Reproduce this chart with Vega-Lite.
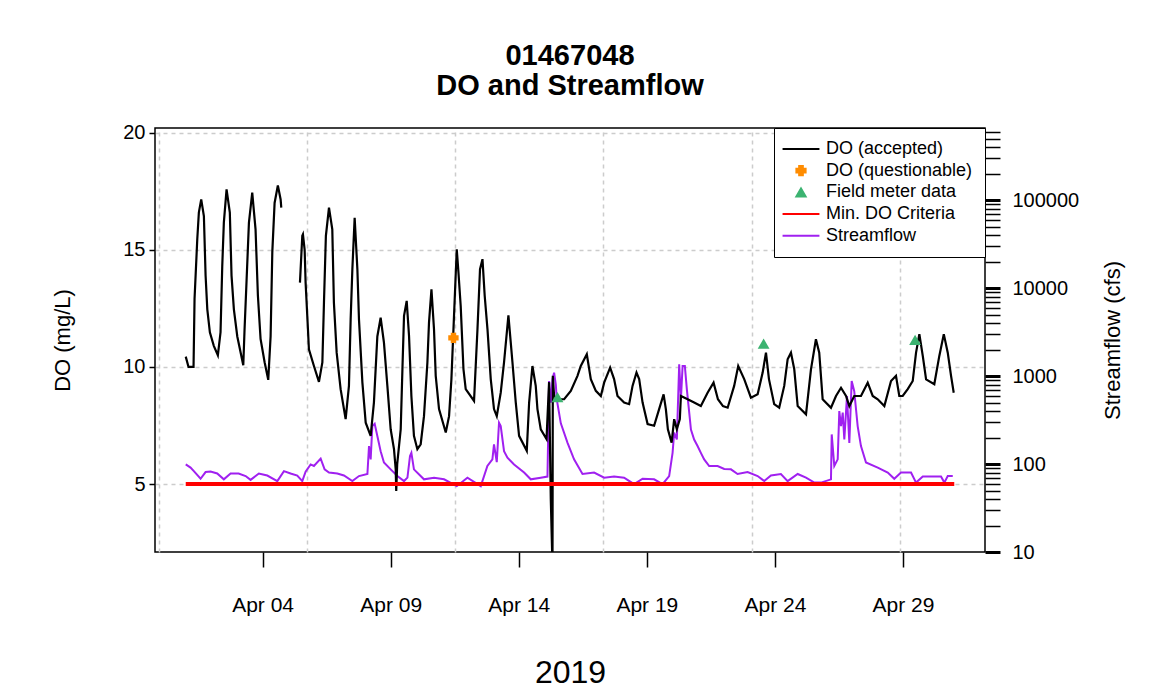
{
  "$schema": "https://vega.github.io/schema/vega-lite/v6.json",
  "width": 830,
  "height": 424,
  "autosize": "none",
  "padding": {"left": 155, "top": 128, "right": 171, "bottom": 144},
  "background": "white",
  "title": {"text": ["01467048", "DO and Streamflow"], "font": "Liberation Sans", "fontSize": 29, "fontWeight": "bold", "lineHeight": 30, "offset": 22, "anchor": "middle", "frame": "group", "color": "black"},
  "config": {
    "font": "Liberation Sans",
    "view": {"stroke": "black", "strokeWidth": 1.5},
    "axis": {"labelColor": "black", "titleColor": "black", "tickColor": "black", "domain": false, "labelFont": "Liberation Sans", "titleFont": "Liberation Sans", "titleFontWeight": "normal"},
    "legend": {"labelFont": "Liberation Sans"}
  },
  "datasets": {
    "do": [
      {"t":"2019-04-01 00:00","v":10.44,"s":1},{"t":"2019-04-01 02:36","v":10.0,"s":1},{"t":"2019-04-01 07:18","v":10.0,"s":1},{"t":"2019-04-01 08:15","v":12.9,"s":1},{"t":"2019-04-01 10:48","v":15.45,"s":1},{"t":"2019-04-01 12:18","v":16.6,"s":1},{"t":"2019-04-01 14:30","v":17.15,"s":1},{"t":"2019-04-01 17:00","v":16.44,"s":1},{"t":"2019-04-01 18:36","v":13.9,"s":1},{"t":"2019-04-01 20:12","v":12.46,"s":1},{"t":"2019-04-01 22:36","v":11.48,"s":1},
      {"t":"2019-04-02 02:18","v":10.9,"s":1},{"t":"2019-04-02 06:06","v":10.5,"s":1},{"t":"2019-04-02 08:36","v":11.48,"s":1},{"t":"2019-04-02 10:12","v":14.3,"s":1},{"t":"2019-04-02 11:42","v":16.16,"s":1},{"t":"2019-04-02 14:15","v":17.58,"s":1},{"t":"2019-04-02 17:18","v":16.59,"s":1},{"t":"2019-04-02 18:54","v":13.9,"s":1},{"t":"2019-04-02 21:06","v":12.46,"s":1},
      {"t":"2019-04-03 00:18","v":11.3,"s":1},{"t":"2019-04-03 05:54","v":10.07,"s":1},{"t":"2019-04-03 07:06","v":11.6,"s":1},{"t":"2019-04-03 09:00","v":13.7,"s":1},{"t":"2019-04-03 11:12","v":16.16,"s":1},{"t":"2019-04-03 14:18","v":17.44,"s":1},{"t":"2019-04-03 17:24","v":15.87,"s":1},{"t":"2019-04-03 19:36","v":13.05,"s":1},{"t":"2019-04-03 22:06","v":11.2,"s":1},
      {"t":"2019-04-04 01:54","v":10.2,"s":1},{"t":"2019-04-04 05:18","v":9.45,"s":1},{"t":"2019-04-04 07:30","v":11.3,"s":1},{"t":"2019-04-04 09:06","v":14.9,"s":1},{"t":"2019-04-04 11:15","v":17.0,"s":1},{"t":"2019-04-04 14:18","v":17.75,"s":1},{"t":"2019-04-04 16:54","v":17.15,"s":1},{"t":"2019-04-04 17:30","v":16.8,"s":1},
      {"t":"2019-04-05 11:00","v":13.6,"s":2},{"t":"2019-04-05 13:12","v":15.6,"s":2},{"t":"2019-04-05 13:48","v":15.66,"s":2},{"t":"2019-04-05 15:24","v":15.0,"s":2},{"t":"2019-04-05 16:18","v":13.6,"s":2},{"t":"2019-04-05 18:30","v":11.6,"s":2},{"t":"2019-04-05 19:24","v":10.75,"s":2},
      {"t":"2019-04-06 00:06","v":10.04,"s":2},{"t":"2019-04-06 04:48","v":9.36,"s":2},{"t":"2019-04-06 08:00","v":10.19,"s":2},{"t":"2019-04-06 09:30","v":12.75,"s":2},{"t":"2019-04-06 11:18","v":15.6,"s":2},{"t":"2019-04-06 14:12","v":16.8,"s":2},{"t":"2019-04-06 17:18","v":15.87,"s":2},{"t":"2019-04-06 18:48","v":12.75,"s":2},{"t":"2019-04-06 21:24","v":10.61,"s":2},
      {"t":"2019-04-07 01:06","v":9.05,"s":2},{"t":"2019-04-07 05:48","v":7.77,"s":2},{"t":"2019-04-07 08:54","v":9.19,"s":2},{"t":"2019-04-07 10:30","v":12.03,"s":2},{"t":"2019-04-07 12:06","v":14.17,"s":2},{"t":"2019-04-07 14:15","v":16.37,"s":2},{"t":"2019-04-07 16:48","v":14.17,"s":2},{"t":"2019-04-07 18:18","v":12.03,"s":2},{"t":"2019-04-07 21:30","v":9.33,"s":2},
      {"t":"2019-04-08 00:36","v":7.62,"s":2},{"t":"2019-04-08 05:15","v":7.06,"s":2},{"t":"2019-04-08 08:18","v":8.48,"s":2},{"t":"2019-04-08 11:30","v":11.3,"s":2},{"t":"2019-04-08 14:36","v":12.1,"s":2},{"t":"2019-04-08 17:42","v":11.04,"s":2},{"t":"2019-04-08 20:54","v":9.19,"s":2},
      {"t":"2019-04-09 00:00","v":7.34,"s":2},{"t":"2019-04-09 03:06","v":6.49,"s":2},{"t":"2019-04-09 04:42","v":5.64,"s":2},{"t":"2019-04-09 05:12","v":4.71,"s":2},{"t":"2019-04-09 06:06","v":5.85,"s":2},{"t":"2019-04-09 09:24","v":7.34,"s":2},{"t":"2019-04-09 11:00","v":9.9,"s":2},{"t":"2019-04-09 12:30","v":12.18,"s":2},{"t":"2019-04-09 15:00","v":12.82,"s":2},{"t":"2019-04-09 17:12","v":11.32,"s":2},{"t":"2019-04-09 19:24","v":8.76,"s":2},{"t":"2019-04-09 21:48","v":7.06,"s":2},
      {"t":"2019-04-10 01:00","v":6.49,"s":2},{"t":"2019-04-10 04:06","v":6.7,"s":2},{"t":"2019-04-10 07:12","v":7.9,"s":2},{"t":"2019-04-10 10:24","v":10.19,"s":2},{"t":"2019-04-10 11:54","v":11.89,"s":2},{"t":"2019-04-10 14:12","v":13.31,"s":2},{"t":"2019-04-10 16:36","v":11.6,"s":2},{"t":"2019-04-10 18:12","v":9.62,"s":2},{"t":"2019-04-10 21:18","v":8.2,"s":2},
      {"t":"2019-04-11 03:36","v":7.2,"s":2},{"t":"2019-04-11 06:42","v":7.9,"s":2},{"t":"2019-04-11 08:54","v":9.48,"s":2},{"t":"2019-04-11 13:54","v":15.02,"s":2},{"t":"2019-04-11 15:30","v":14.03,"s":2},{"t":"2019-04-11 17:36","v":12.6,"s":2},{"t":"2019-04-11 20:12","v":9.9,"s":2},{"t":"2019-04-11 22:18","v":9.05,"s":2},
      {"t":"2019-04-12 06:06","v":8.55,"s":2},{"t":"2019-04-12 09:18","v":11.6,"s":2},{"t":"2019-04-12 11:42","v":14.17,"s":2},{"t":"2019-04-12 14:00","v":14.6,"s":2},{"t":"2019-04-12 16:06","v":13.03,"s":2},{"t":"2019-04-12 18:42","v":11.6,"s":2},{"t":"2019-04-12 21:45","v":9.48,"s":2},
      {"t":"2019-04-13 00:48","v":8.2,"s":2},{"t":"2019-04-13 03:24","v":7.9,"s":2},{"t":"2019-04-13 07:06","v":8.9,"s":2},{"t":"2019-04-13 10:12","v":10.19,"s":2},{"t":"2019-04-13 14:18","v":12.2,"s":2},{"t":"2019-04-13 16:30","v":11.04,"s":2},{"t":"2019-04-13 18:06","v":10.19,"s":2},{"t":"2019-04-13 21:12","v":8.48,"s":2},
      {"t":"2019-04-14 00:18","v":7.06,"s":2},{"t":"2019-04-14 07:30","v":6.42,"s":2},{"t":"2019-04-14 09:42","v":8.48,"s":2},{"t":"2019-04-14 12:48","v":10.04,"s":2},{"t":"2019-04-14 15:54","v":9.19,"s":2},{"t":"2019-04-14 17:30","v":8.2,"s":2},{"t":"2019-04-14 20:36","v":7.34,"s":2},
      {"t":"2019-04-15 02:00","v":6.92,"s":2},{"t":"2019-04-15 04:24","v":9.35,"s":2},{"t":"2019-04-15 06:00","v":4.36,"s":2},{"t":"2019-04-15 07:36","v":1.5,"s":2},{"t":"2019-04-15 07:54","v":9.62,"s":2},{"t":"2019-04-15 09:06","v":8.76,"s":2},{"t":"2019-04-15 12:18","v":8.62,"s":2},{"t":"2019-04-15 18:30","v":8.62,"s":2},
      {"t":"2019-04-16 00:45","v":8.98,"s":2},{"t":"2019-04-16 07:00","v":9.62,"s":2},{"t":"2019-04-16 10:06","v":10.04,"s":2},{"t":"2019-04-16 15:45","v":10.54,"s":2},{"t":"2019-04-16 19:30","v":9.48,"s":2},
      {"t":"2019-04-17 00:12","v":8.98,"s":2},{"t":"2019-04-17 04:54","v":8.76,"s":2},{"t":"2019-04-17 08:00","v":9.33,"s":2},{"t":"2019-04-17 13:36","v":9.97,"s":2},{"t":"2019-04-17 17:18","v":9.48,"s":2},{"t":"2019-04-17 20:30","v":8.76,"s":2},
      {"t":"2019-04-18 02:42","v":8.48,"s":2},{"t":"2019-04-18 07:24","v":8.41,"s":2},{"t":"2019-04-18 10:36","v":9.19,"s":2},{"t":"2019-04-18 14:18","v":9.76,"s":2},{"t":"2019-04-18 16:48","v":9.48,"s":2},{"t":"2019-04-18 20:00","v":8.48,"s":2},
      {"t":"2019-04-19 00:42","v":7.56,"s":2},{"t":"2019-04-19 06:48","v":7.49,"s":2},{"t":"2019-04-19 11:30","v":8.2,"s":2},{"t":"2019-04-19 15:42","v":8.83,"s":2},{"t":"2019-04-19 17:48","v":8.2,"s":2},{"t":"2019-04-19 19:42","v":7.34,"s":2},{"t":"2019-04-19 23:12","v":6.77,"s":2},
      {"t":"2019-04-20 01:36","v":7.77,"s":2},{"t":"2019-04-20 04:06","v":7.34,"s":2},{"t":"2019-04-20 06:54","v":7.77,"s":2},{"t":"2019-04-20 07:54","v":8.76,"s":2},{"t":"2019-04-20 14:12","v":8.62,"s":2},{"t":"2019-04-20 20:18","v":8.48,"s":2},
      {"t":"2019-04-21 02:36","v":8.33,"s":2},{"t":"2019-04-21 08:54","v":8.9,"s":2},{"t":"2019-04-21 14:30","v":9.33,"s":2},{"t":"2019-04-21 18:36","v":8.62,"s":2},{"t":"2019-04-21 23:18","v":8.33,"s":2},
      {"t":"2019-04-22 03:42","v":8.26,"s":2},{"t":"2019-04-22 09:48","v":9.19,"s":2},{"t":"2019-04-22 13:36","v":10.04,"s":2},{"t":"2019-04-22 19:12","v":9.48,"s":2},
      {"t":"2019-04-23 01:30","v":8.69,"s":2},{"t":"2019-04-23 07:48","v":8.83,"s":2},{"t":"2019-04-23 12:30","v":9.76,"s":2},{"t":"2019-04-23 15:36","v":10.61,"s":2},{"t":"2019-04-23 18:24","v":9.48,"s":2},{"t":"2019-04-23 23:18","v":8.41,"s":2},
      {"t":"2019-04-24 04:00","v":8.26,"s":2},{"t":"2019-04-24 08:42","v":9.19,"s":2},{"t":"2019-04-24 11:54","v":10.33,"s":2},{"t":"2019-04-24 15:00","v":10.61,"s":2},{"t":"2019-04-24 18:06","v":9.9,"s":2},{"t":"2019-04-24 21:18","v":8.33,"s":2},
      {"t":"2019-04-25 05:06","v":7.98,"s":2},{"t":"2019-04-25 09:45","v":9.9,"s":2},{"t":"2019-04-25 14:24","v":11.18,"s":2},{"t":"2019-04-25 17:30","v":10.61,"s":2},{"t":"2019-04-25 20:42","v":8.62,"s":2},
      {"t":"2019-04-26 04:30","v":8.26,"s":2},{"t":"2019-04-26 09:12","v":8.76,"s":2},{"t":"2019-04-26 13:54","v":9.11,"s":2},{"t":"2019-04-26 18:36","v":8.76,"s":2},{"t":"2019-04-26 21:42","v":8.33,"s":2},
      {"t":"2019-04-27 02:18","v":8.76,"s":2},{"t":"2019-04-27 08:36","v":8.76,"s":2},{"t":"2019-04-27 14:54","v":9.33,"s":2},{"t":"2019-04-27 19:36","v":8.76,"s":2},
      {"t":"2019-04-28 00:18","v":8.62,"s":2},{"t":"2019-04-28 06:30","v":8.33,"s":2},{"t":"2019-04-28 12:45","v":9.4,"s":2},{"t":"2019-04-28 17:24","v":9.62,"s":2},{"t":"2019-04-28 20:30","v":8.76,"s":2},{"t":"2019-04-28 23:42","v":8.76,"s":2},
      {"t":"2019-04-29 04:24","v":9.05,"s":2},{"t":"2019-04-29 09:06","v":9.4,"s":2},{"t":"2019-04-29 12:12","v":10.61,"s":2},{"t":"2019-04-29 15:18","v":11.4,"s":2},{"t":"2019-04-29 18:30","v":10.47,"s":2},{"t":"2019-04-29 21:36","v":9.47,"s":2},
      {"t":"2019-04-30 05:18","v":9.26,"s":2},{"t":"2019-04-30 10:00","v":10.47,"s":2},{"t":"2019-04-30 14:12","v":11.4,"s":2},{"t":"2019-04-30 17:54","v":10.61,"s":2},{"t":"2019-04-30 21:00","v":9.62,"s":2},{"t":"2019-04-30 23:30","v":8.9,"s":2}
    ],
    "flow": [
      {"t":"2019-04-01 00:00","q":99},{"t":"2019-04-01 04:30","q":91},{"t":"2019-04-01 07:36","q":83},{"t":"2019-04-01 13:54","q":68},{"t":"2019-04-01 18:36","q":81},{"t":"2019-04-01 23:15","q":82},
      {"t":"2019-04-02 05:30","q":78},{"t":"2019-04-02 11:42","q":67},{"t":"2019-04-02 18:00","q":78},{"t":"2019-04-03 01:30","q":78},{"t":"2019-04-03 08:06","q":73},{"t":"2019-04-03 12:45","q":66},{"t":"2019-04-03 20:30","q":78},
      {"t":"2019-04-04 04:24","q":74},{"t":"2019-04-04 13:48","q":64},{"t":"2019-04-04 20:00","q":83},{"t":"2019-04-05 02:15","q":78},{"t":"2019-04-05 08:30","q":74},{"t":"2019-04-05 13:12","q":64},{"t":"2019-04-05 16:18","q":82},{"t":"2019-04-05 21:00","q":99},
      {"t":"2019-04-06 00:06","q":95},{"t":"2019-04-06 06:24","q":115},{"t":"2019-04-06 10:06","q":87},{"t":"2019-04-06 14:12","q":80},{"t":"2019-04-06 22:00","q":78},{"t":"2019-04-07 04:12","q":74},{"t":"2019-04-07 12:06","q":64},{"t":"2019-04-07 18:18","q":73},
      {"t":"2019-04-08 02:12","q":77},{"t":"2019-04-08 03:42","q":160},{"t":"2019-04-08 05:15","q":113},{"t":"2019-04-08 06:48","q":270},{"t":"2019-04-08 09:00","q":287},{"t":"2019-04-08 11:30","q":208},{"t":"2019-04-08 14:36","q":140},{"t":"2019-04-08 17:42","q":104},
      {"t":"2019-04-09 00:00","q":87},{"t":"2019-04-09 06:18","q":73},{"t":"2019-04-09 12:30","q":64},{"t":"2019-04-09 15:42","q":70},{"t":"2019-04-09 18:06","q":123},{"t":"2019-04-09 19:24","q":134},{"t":"2019-04-09 21:48","q":87},
      {"t":"2019-04-10 07:12","q":67},{"t":"2019-04-10 16:36","q":70},{"t":"2019-04-11 02:00","q":67},{"t":"2019-04-11 13:54","q":56},{"t":"2019-04-11 23:54","q":70},{"t":"2019-04-12 12:24","q":56},{"t":"2019-04-12 18:36","q":95},{"t":"2019-04-12 23:18","q":113},
      {"t":"2019-04-13 00:48","q":167},{"t":"2019-04-13 03:24","q":105},{"t":"2019-04-13 05:30","q":295},{"t":"2019-04-13 07:06","q":270},{"t":"2019-04-13 10:12","q":140},{"t":"2019-04-13 13:24","q":118},{"t":"2019-04-13 19:36","q":99},
      {"t":"2019-04-14 05:00","q":80},{"t":"2019-04-14 11:15","q":67},{"t":"2019-04-14 20:36","q":70},{"t":"2019-04-15 02:54","q":72},{"t":"2019-04-15 04:24","q":877},{"t":"2019-04-15 06:00","q":498},{"t":"2019-04-15 07:36","q":920},{"t":"2019-04-15 09:06","q":1094},{"t":"2019-04-15 10:42","q":800},{"t":"2019-04-15 11:36","q":543},{"t":"2019-04-15 15:24","q":290},{"t":"2019-04-15 21:42","q":174},
      {"t":"2019-04-16 03:48","q":113},{"t":"2019-04-16 11:42","q":77},{"t":"2019-04-16 22:36","q":80},{"t":"2019-04-17 08:00","q":70},{"t":"2019-04-17 17:18","q":72},{"t":"2019-04-18 02:42","q":70},{"t":"2019-04-18 12:06","q":59},{"t":"2019-04-18 20:00","q":68},
      {"t":"2019-04-19 06:48","q":67},{"t":"2019-04-19 14:42","q":59},{"t":"2019-04-19 20:54","q":73},{"t":"2019-04-20 00:06","q":134},{"t":"2019-04-20 01:36","q":228},{"t":"2019-04-20 04:06","q":190},{"t":"2019-04-20 06:18","q":1358},{"t":"2019-04-20 07:54","q":543},{"t":"2019-04-20 09:30","q":1300},{"t":"2019-04-20 11:36","q":1300},{"t":"2019-04-20 13:30","q":700},{"t":"2019-04-20 15:42","q":384},{"t":"2019-04-20 17:18","q":247},{"t":"2019-04-20 20:18","q":190},{"t":"2019-04-20 23:30","q":160},
      {"t":"2019-04-21 02:36","q":134},{"t":"2019-04-21 05:42","q":113},{"t":"2019-04-21 10:24","q":95},{"t":"2019-04-21 18:18","q":95},{"t":"2019-04-22 00:30","q":88},{"t":"2019-04-22 06:45","q":87},{"t":"2019-04-22 13:00","q":77},{"t":"2019-04-22 22:24","q":81},
      {"t":"2019-04-23 07:48","q":73},{"t":"2019-04-23 14:00","q":64},{"t":"2019-04-23 20:15","q":74},{"t":"2019-04-24 05:36","q":77},{"t":"2019-04-24 11:54","q":64},{"t":"2019-04-24 21:18","q":77},{"t":"2019-04-25 05:06","q":70},{"t":"2019-04-25 12:54","q":61.5},{"t":"2019-04-25 19:06","q":61.5},
      {"t":"2019-04-26 04:30","q":67},{"t":"2019-04-26 05:12","q":217},{"t":"2019-04-26 07:36","q":95},{"t":"2019-04-26 10:48","q":113},{"t":"2019-04-26 12:18","q":400},{"t":"2019-04-26 13:54","q":270},{"t":"2019-04-26 15:30","q":384},{"t":"2019-04-26 17:00","q":190},{"t":"2019-04-26 19:30","q":593},{"t":"2019-04-26 21:42","q":174},{"t":"2019-04-26 23:54","q":877},
      {"t":"2019-04-27 02:18","q":672},{"t":"2019-04-27 05:30","q":270},{"t":"2019-04-27 08:36","q":160},{"t":"2019-04-27 13:18","q":104},{"t":"2019-04-28 00:18","q":91},{"t":"2019-04-28 09:42","q":80},{"t":"2019-04-28 15:48","q":68},{"t":"2019-04-28 22:06","q":80},
      {"t":"2019-04-29 07:30","q":80},{"t":"2019-04-29 12:12","q":61.5},{"t":"2019-04-29 18:30","q":72},{"t":"2019-04-30 11:36","q":72},{"t":"2019-04-30 14:42","q":61.5},{"t":"2019-04-30 17:54","q":73},{"t":"2019-04-30 22:36","q":73}
    ],
    "pts": [
      {"t":"2019-04-11 10:48","v":11.24,"series":"DO (questionable)"},
      {"t":"2019-04-15 12:18","v":8.69,"series":"Field meter data"},
      {"t":"2019-04-23 13:24","v":10.97,"series":"Field meter data"},
      {"t":"2019-04-29 11:18","v":11.13,"series":"Field meter data"}
    ],
    "crit": [
      {"t":"2019-04-01 00:00","t2":"2019-05-01 00:00","v":5}
    ]
  },
  "layer": [
    {
      "data": {"name": "flow"},
      "mark": {"type": "line", "color": "#A020F0", "strokeWidth": 2, "clip": true},
      "encoding": {
        "x": {"field": "t", "type": "temporal",
          "scale": {"domain": [{"year":2019,"month":3,"date":30,"hours":19,"minutes":12},{"year":2019,"month":5,"date":2,"hours":4,"minutes":48}]},
          "axis": {"orient": "top", "title": null, "labels": false, "ticks": false, "domain": false, "grid": true, "gridDash": [4,4], "gridColor": "#cccccc", "gridWidth": 1.5,
            "values": [{"year":2019,"month":3,"date":30,"hours":22,"minutes":40},{"year":2019,"month":4,"date":5,"hours":17,"minutes":33},{"year":2019,"month":4,"date":11,"hours":12,"minutes":27},{"year":2019,"month":4,"date":17,"hours":7,"minutes":20},{"year":2019,"month":4,"date":23,"hours":2,"minutes":13},{"year":2019,"month":4,"date":28,"hours":21,"minutes":7}]}},
        "y": {"field": "q", "type": "quantitative",
          "scale": {"type": "log", "domain": [10, 660000], "nice": false},
          "axis": {"orient": "right", "title": "Streamflow (cfs)", "titleFontSize": 22, "titleAngle": 270, "titlePadding": 46, "labelFontSize": 20, "labelPadding": 12, "tickSize": 15, "format": "d", "grid": false,
            "values": [10,20,30,40,50,60,70,80,90,100,200,300,400,500,600,700,800,900,1000,2000,3000,4000,5000,6000,7000,8000,9000,10000,20000,30000,40000,50000,60000,70000,80000,90000,100000,200000,300000,400000,500000,600000],
            "labelExpr": "(datum.value == 10 || datum.value == 100 || datum.value == 1000 || datum.value == 10000 || datum.value == 100000) ? datum.label : ''",
            "tickWidth": {"condition": {"test": "datum.value == 10 || datum.value == 100 || datum.value == 1000 || datum.value == 10000 || datum.value == 100000", "value": 3}, "value": 1.5}}}
      }
    },
    {
      "encoding": {
        "x": {"field": "t", "type": "temporal",
          "axis": {"orient": "bottom", "title": "2019", "titleFontSize": 32, "titlePadding": 42, "format": "%b %d", "labelFontSize": 21, "labelPadding": 27, "labelFlush": false, "tickSize": 15, "tickWidth": 1.5, "grid": false,
            "values": [{"year":2019,"month":4,"date":4},{"year":2019,"month":4,"date":9},{"year":2019,"month":4,"date":14},{"year":2019,"month":4,"date":19},{"year":2019,"month":4,"date":24},{"year":2019,"month":4,"date":29}]}},
        "y": {"field": "v", "type": "quantitative",
          "scale": {"domain": [2.1, 20.2], "nice": false, "zero": false},
          "axis": {"orient": "left", "title": "DO (mg/L)", "titleFontSize": 22, "titlePadding": 48, "labelFontSize": 20, "labelPadding": 4, "tickSize": 6, "tickWidth": 1.5, "values": [5,10,15,20], "grid": true, "gridDash": [4,4], "gridColor": "#cccccc", "gridWidth": 1.5}}
      },
      "layer": [
        {
          "data": {"name": "do"},
          "mark": {"type": "line", "color": "black", "strokeWidth": 2.2, "clip": true},
          "encoding": {"detail": {"field": "s", "type": "nominal"}}
        },
        {
          "data": {"name": "crit"},
          "mark": {"type": "rule", "color": "#FF0000", "strokeWidth": 4},
          "encoding": {"x2": {"field": "t2"}}
        },
        {
          "data": {"name": "pts"},
          "mark": {"type": "point", "filled": false, "opacity": 1, "size": 70, "strokeWidth": 2},
          "encoding": {
            "color": {"field": "series", "type": "nominal",
              "scale": {"domain": ["DO (accepted)", "DO (questionable)", "Field meter data", "Min. DO Criteria", "Streamflow"], "range": ["#000000", "#FF8C00", "#3CB371", "#FF0000", "#A020F0"]},
              "legend": {"title": null, "orient": "top-right", "offset": 0, "strokeColor": "black", "fillColor": "white", "padding": 12, "labelFontSize": 18, "labelColor": "black", "symbolSize": 85, "symbolStrokeWidth": 2, "symbolOffset": 6, "labelOffset": 16, "rowPadding": 3.7}},
            "fill": {"field": "series", "type": "nominal",
              "scale": {"domain": ["DO (accepted)", "DO (questionable)", "Field meter data", "Min. DO Criteria", "Streamflow"], "range": ["transparent", "#FF8C00", "#3CB371", "transparent", "transparent"]},
              "legend": {"title": null, "orient": "top-right", "offset": 0, "strokeColor": "black", "fillColor": "white", "padding": 12, "labelFontSize": 18, "labelColor": "black", "symbolSize": 85, "symbolStrokeWidth": 2, "symbolOffset": 6, "labelOffset": 16, "rowPadding": 3.7}},
            "shape": {"field": "series", "type": "nominal",
              "scale": {"domain": ["DO (accepted)", "DO (questionable)", "Field meter data", "Min. DO Criteria", "Streamflow"], "range": ["M-4,0H4", "cross", "triangle-up", "M-4,0H4", "M-4,0H4"]},
              "legend": {"title": null, "orient": "top-right", "offset": 0, "strokeColor": "black", "fillColor": "white", "padding": 12, "labelFontSize": 18, "labelColor": "black", "symbolSize": 85, "symbolStrokeWidth": 2, "symbolOffset": 6, "labelOffset": 16, "rowPadding": 3.7}}
          }
        }
      ]
    }
  ],
  "resolve": {"scale": {"y": "independent"}, "axis": {"y": "independent", "x": "independent"}}
}
